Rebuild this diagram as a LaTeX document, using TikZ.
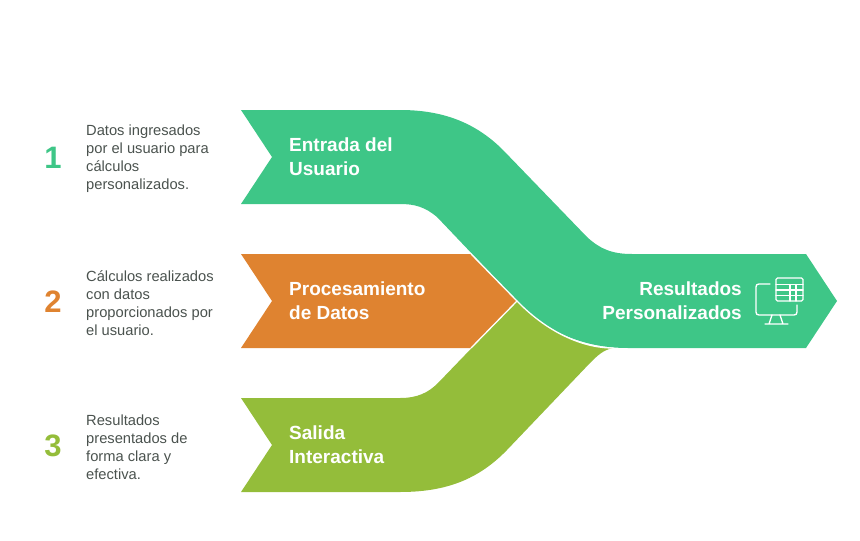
\documentclass[tikz,border=0pt]{standalone}
\usepackage{fontspec}
\setmainfont{Liberation Sans}
\usepackage{tikz}
\definecolor{cgreen}{HTML}{3EC687}
\definecolor{corange}{HTML}{DF8330}
\definecolor{clime}{HTML}{94BD3A}
\definecolor{ctext}{HTML}{4A524E}
\tikzstyle{desc}=[anchor=west, align=left, inner sep=0pt, text=ctext, font=\fontsize{14.7}{18}\selectfont]
\tikzstyle{title}=[anchor=west, align=left, inner sep=0pt, text=white, font=\fontsize{19}{24}\selectfont\bfseries]
\tikzstyle{num}=[inner sep=0pt, font=\fontsize{31}{31}\selectfont\bfseries]
\tikzstyle{icon}=[white, line width=1.3pt, line cap=round, line join=round]

\begin{document}
\begin{tikzpicture}[x=1pt, y=-1pt]
\useasboundingbox (0,0) rectangle (860,541);

% Bands
\fill[corange] (241,254) -- (471,254) -- (517,301) -- (471,348) -- (241,348) -- (272,301) -- cycle;
\fill[clime] (241,398) -- (400,398) .. controls (417,398) and (428,393) .. (438,383)
  -- (517,301) .. controls (545,330) and (580,348) .. (613,348)
  .. controls (603,350) and (597,356) .. (590,363)
  -- (507,450) .. controls (478,480) and (445,492) .. (400,492)
  -- (241,492) -- (272,445) -- cycle;
\fill[cgreen] (241,110) -- (400,110) .. controls (442,110) and (475,122) .. (503,150)
  -- (587,237) .. controls (600,249) and (612,254) .. (632,254)
  -- (806,254) -- (837,301) -- (806,348) -- (628,348)
  .. controls (580,348) and (545,330) .. (517,301)
  -- (437,217) .. controls (425,207) and (415,204) .. (400,204)
  -- (241,204) -- (272,157) -- cycle;
\draw[white, line width=1.3pt] (471,254) -- (517,301) -- (471,348);
\draw[white, line width=1.3pt] (517,301) .. controls (545,330) and (580,348) .. (613,348);

% Numbers
\node[num, text=cgreen] (n1) at (53,158) {1};
\node[num, text=corange] (n2) at (53,302) {2};
\node[num, text=clime] (n3) at (53,446) {3};

% Descriptions
\node[desc] (d1) at (86,159) {Datos ingresados\\por el usuario para\\cálculos\\personalizados.};
\node[desc] (d2) at (86,303) {Cálculos realizados\\con datos\\proporcionados por\\el usuario.};
\node[desc] (d3) at (86,447) {Resultados\\presentados de\\forma clara y\\efectiva.};

% Titles
\node[title] (t1) at (289,157) {Entrada del\\Usuario};
\node[title] (t2) at (289,301) {Procesamiento\\de Datos};
\node[title] (t3) at (289,445) {Salida\\Interactiva};
\node[title, anchor=east, align=right] (t4) at (742,301) {Resultados\\Personalizados};

% Icon
\draw[icon] (770,284) -- (759,284) .. controls (757,284) and (756,285) .. (756,287)
  -- (756,312) .. controls (756,314) and (757,315) .. (759,315)
  -- (794,315) .. controls (796,315) and (797,314) .. (797,312) -- (797,305);
\draw[icon] (772,315) -- (769,324) (780,315) -- (783,324) (765,324) -- (788,324);
\draw[icon, rounded corners=1.5pt] (776,278) rectangle (803,301);
\draw[icon] (776,284.5) -- (803,284.5) (776,290) -- (803,290) (776,295.5) -- (803,295.5);
\draw[icon] (790,284.5) -- (790,301) (796,284.5) -- (796,301);
\end{tikzpicture}
\end{document}
